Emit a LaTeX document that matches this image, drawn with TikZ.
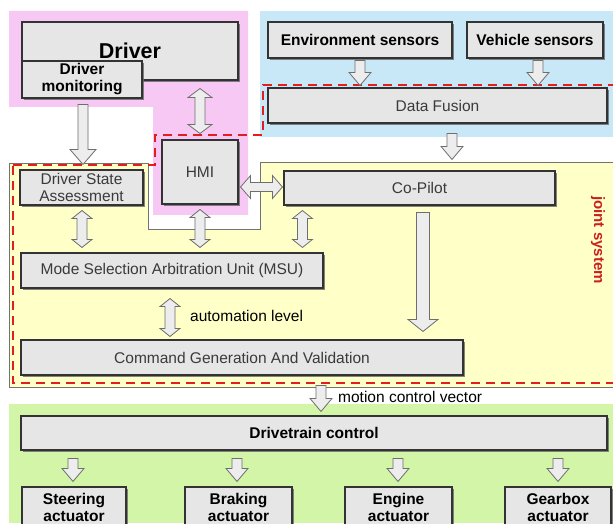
\documentclass[tikz,border=0pt]{standalone}
\usepackage{fontspec}
\setmainfont{Liberation Sans}
\usetikzlibrary{calc,shadows}
\definecolor{pinkbg}{HTML}{F8C8F4}
\definecolor{bluebg}{HTML}{C8E8F8}
\definecolor{yellowbg}{HTML}{FFFFC8}
\definecolor{greenbg}{HTML}{D2F5A8}
\definecolor{boxfill}{HTML}{E6E6E6}
\definecolor{boxline}{HTML}{333333}
\definecolor{dashred}{HTML}{E02020}
\definecolor{jointred}{HTML}{CC2020}
\definecolor{arrowfill}{HTML}{EDEDED}
\definecolor{arrowline}{HTML}{6E6E6E}
\definecolor{softtext}{HTML}{3A3A3A}
\tikzset{
  box/.style={draw=boxline, line width=1.1pt, fill=boxfill, inner sep=0pt, align=center,
    text=softtext, font=\fontsize{15.5}{17}\selectfont,
    drop shadow={shadow xshift=1.6pt, shadow yshift=-1.6pt, fill=black!60, opacity=0.8}},
  boldbox/.style={box, text=black, font=\fontsize{15.5}{17}\selectfont\bfseries},
  blockarrow/.style={draw=arrowline, line width=0.8pt, fill=arrowfill, line join=miter},
  jointline/.style={draw=dashred, line width=2.2pt, dash pattern=on 9pt off 6pt},
  lbl/.style={anchor=west, inner sep=0pt, text=black, font=\fontsize{15.5}{17}\selectfont}
}
% vertical single arrow: start, tip, shaft half width, head half width, head length
\newcommand\vsingle[5]{\path[blockarrow] let \p1=(#1), \p2=(#2) in
  (\x1-#3pt,\y1) -- (\x1+#3pt,\y1) -- (\x1+#3pt,\y2+#5pt) -- (\x1+#4pt,\y2+#5pt) -- (\x1,\y2)
  -- (\x1-#4pt,\y2+#5pt) -- (\x1-#3pt,\y2+#5pt) -- cycle;}
% vertical double arrow: top tip, bottom tip, ...
\newcommand\vdouble[5]{\path[blockarrow] let \p1=(#1), \p2=(#2) in
  (\x1,\y1) -- (\x1+#4pt,\y1-#5pt) -- (\x1+#3pt,\y1-#5pt) -- (\x1+#3pt,\y2+#5pt) -- (\x1+#4pt,\y2+#5pt)
  -- (\x1,\y2) -- (\x1-#4pt,\y2+#5pt) -- (\x1-#3pt,\y2+#5pt) -- (\x1-#3pt,\y1-#5pt) -- (\x1-#4pt,\y1-#5pt) -- cycle;}
% horizontal double arrow: left tip, right tip, ...
\newcommand\hdouble[5]{\path[blockarrow] let \p1=(#1), \p2=(#2) in
  (\x1,\y1) -- (\x1+#5pt,\y1+#4pt) -- (\x1+#5pt,\y1+#3pt) -- (\x2-#5pt,\y1+#3pt) -- (\x2-#5pt,\y1+#4pt)
  -- (\x2,\y1) -- (\x2-#5pt,\y1-#4pt) -- (\x2-#5pt,\y1-#3pt) -- (\x1+#5pt,\y1-#3pt) -- (\x1+#5pt,\y1-#4pt) -- cycle;}
\begin{document}
\begin{tikzpicture}[x=1pt,y=1pt]
\useasboundingbox (0,0) rectangle (613,523);
\fill[white] (0,0) rectangle (613,523);
% regions
\fill[yellowbg, draw=black!55, line width=0.6pt]
  (9,360) -- (148,360) -- (148,294) -- (260,294) -- (260,361) -- (618,361) -- (618,136) -- (9,136) -- cycle;
\fill[pinkbg] (9,512) -- (248,512) -- (248,308) -- (153,308) -- (153,416) -- (9,416) -- cycle;
\fill[bluebg] (260,512) rectangle (613,386);
\fill[greenbg] (9,119) rectangle (613,0);
% joint system boundary
\draw[jointline] (13,358) -- (155,358) -- (155,388) -- (263,388) -- (263,438) -- (620,438) -- (620,140) -- (13,140) -- cycle;
\node[rotate=-90, text=jointred, inner sep=0pt, font=\fontsize{15}{17}\selectfont\bfseries] (js) at (598,283) {joint system};
% boxes
\node[boldbox, minimum width=216pt, minimum height=58pt, font=\fontsize{21.5}{24}\selectfont\bfseries] (driver) at (130,472) {Driver};
\node[boldbox, minimum width=120pt, minimum height=37pt] (dm) at (82,443.5) {Driver\\monitoring};
\node[box, minimum width=76pt, minimum height=64pt] (hmi) at (200,351) {HMI};
\node[boldbox, minimum width=184pt, minimum height=36pt] (env) at (360,483) {Environment sensors};
\node[boldbox, minimum width=136pt, minimum height=36pt] (veh) at (535,483) {Vehicle sensors};
\node[box, minimum width=339pt, minimum height=35pt] (df) at (437.5,417.5) {Data Fusion};
\node[box, minimum width=271pt, minimum height=34pt] (cp) at (419.5,335) {Co-Pilot};
\node[box, minimum width=123pt, minimum height=35pt] (dsa) at (81.5,335.5) {Driver State\\Assessment};
\node[box, minimum width=302pt, minimum height=35pt] (msu) at (172,252.5) {Mode Selection Arbitration Unit (MSU)};
\node[box, minimum width=442pt, minimum height=35pt] (cgv) at (242,165.5) {Command Generation And Validation};
\node[boldbox, minimum width=586pt, minimum height=34pt] (dt) at (314,90) {Drivetrain control};
\node[boldbox, minimum width=104pt, minimum height=40pt] (st) at (74,16) {Steering\\actuator};
\node[boldbox, minimum width=107pt, minimum height=40pt] (br) at (238.5,16) {Braking\\actuator};
\node[boldbox, minimum width=107pt, minimum height=40pt] (en) at (398.5,16) {Engine\\actuator};
\node[boldbox, minimum width=106pt, minimum height=40pt] (gb) at (558,16) {Gearbox\\actuator};
% arrows
\vsingle{$(dm.south)+(1,-6)$}{$(dsa.north)+(0,5)$}{5}{13}{15}
\vdouble{$(driver.south -| hmi.north)+(0,-8)$}{$(hmi.north)+(0,6)$}{5}{12}{9}
\vsingle{$(env.south)+(0,-2)$}{$(df.north)+(0,2)$}{5}{11}{13}
\vsingle{$(veh.south)+(3,-2)$}{$(df.north)+(0,2)$}{5}{11}{13}
\vsingle{$(df.south)+(14.5,-10)$}{$(cp.north)+(0,11)$}{5}{11}{13}
\hdouble{$(hmi.east |- cp.west)+(2,1)$}{$(cp.west)+(-1,0)$}{4.5}{11.5}{10}
\vdouble{$(dsa.south)+(0.5,-5)$}{$(msu.north)+(0,5)$}{5}{10}{8}
\vdouble{$(hmi.south)+(0,-5)$}{$(msu.north)+(0,5)$}{5}{10}{8}
\vdouble{$(cp.south west)+(19,-5)$}{$(msu.north)+(0,5)$}{5}{10}{8}
\vdouble{$(msu.south)+(-2,-10)$}{$(cgv.north)+(0,3)$}{5}{10}{8}
\vsingle{$(cp.south)+(3.5,-7)$}{$(cgv.north)+(0,8)$}{6.5}{15}{12}
\vsingle{$(dt.north)+(7,30)$}{$(dt.north)+(0,4)$}{5}{11}{13}
\vsingle{$(st.north |- dt.south)+(-1,-8)$}{$(st.north)+(0,5)$}{5}{11}{13}
\vsingle{$(br.north |- dt.south)+(-1.5,-8)$}{$(br.north)+(0,5)$}{5}{11}{13}
\vsingle{$(en.north |- dt.south)+(-0.5,-8)$}{$(en.north)+(0,5)$}{5}{11}{13}
\vsingle{$(gb.north |- dt.south)+(0,-8)$}{$(gb.north)+(0,5)$}{5}{11}{13}
% labels
\node[lbl] (al) at (190,207) {automation level};
\node[lbl] (mcv) at (338,126) {motion control vector};
\end{tikzpicture}
\end{document}
